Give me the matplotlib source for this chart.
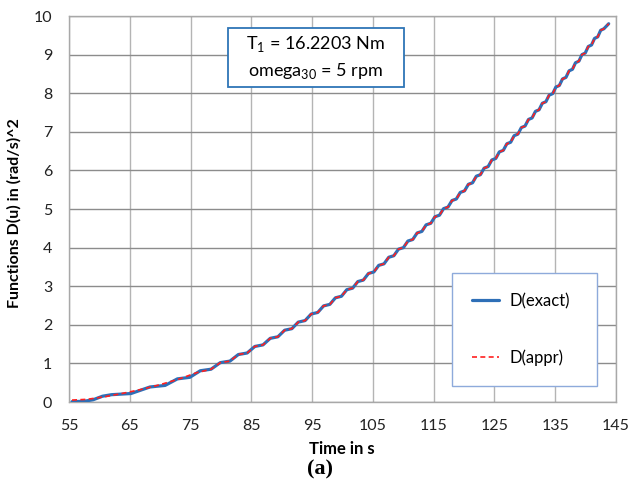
import matplotlib
matplotlib.use("Agg")
import matplotlib.pyplot as plt
from matplotlib.patches import Rectangle

plt.rcParams['font.family'] = ['Lato', 'DejaVu Sans']
plt.rcParams['mathtext.fontset'] = 'custom'
plt.rcParams['mathtext.rm'] = 'Lato'

# time (s) and D(u) in (rad/s)^2, exact solution
t_exact = [55.5, 57.5, 59.0, 60.5, 62.0, 65.2, 68.33, 70.81, 72.84, 74.88,
           76.60, 78.37, 79.89, 81.48, 82.86, 84.31, 85.58, 86.92, 88.11, 89.37,
           90.48, 91.67, 92.72, 93.85, 94.85, 95.93, 96.89, 97.92, 98.84, 99.83,
           100.71, 101.67, 102.52, 103.44, 104.27, 105.16, 105.96, 106.83, 107.61, 108.45,
           109.21, 110.03, 110.76, 111.56, 112.28, 113.06, 113.76, 114.53, 115.21, 115.96,
           116.63, 117.36, 118.02, 118.73, 119.38, 120.08, 120.71, 121.40, 122.02, 122.70,
           123.31, 123.97, 124.57, 125.22, 125.81, 126.46, 127.04, 127.67, 128.24, 128.86,
           129.43, 130.04, 130.60, 131.20, 131.75, 132.34, 132.88, 133.47, 134.00, 134.59,
           135.11, 135.68, 136.20, 136.77, 137.28, 137.84, 138.34, 138.90, 139.40, 139.94,
           140.44, 140.98, 141.47, 142.00, 142.48, 143.01, 143.8]
d_exact = [0.01, 0.02, 0.06, 0.15, 0.19, 0.22, 0.39, 0.43, 0.60, 0.64,
           0.81, 0.85, 1.02, 1.06, 1.23, 1.27, 1.44, 1.48, 1.65, 1.69,
           1.86, 1.90, 2.07, 2.11, 2.28, 2.32, 2.49, 2.53, 2.70, 2.74,
           2.91, 2.95, 3.12, 3.16, 3.33, 3.37, 3.54, 3.58, 3.75, 3.79,
           3.96, 4.00, 4.17, 4.21, 4.38, 4.42, 4.59, 4.63, 4.80, 4.84,
           5.01, 5.05, 5.22, 5.26, 5.43, 5.47, 5.64, 5.68, 5.85, 5.89,
           6.06, 6.10, 6.27, 6.31, 6.48, 6.52, 6.69, 6.73, 6.90, 6.94,
           7.11, 7.15, 7.32, 7.36, 7.53, 7.57, 7.74, 7.78, 7.95, 7.99,
           8.16, 8.20, 8.37, 8.41, 8.58, 8.62, 8.79, 8.83, 9.00, 9.04,
           9.21, 9.25, 9.42, 9.46, 9.63, 9.67, 9.80]

# approximation: smoother at the start, then follows the exact curve
t_appr_head = [55.5, 58.0, 61.0, 64.0, 67.0, 70.0, 73.0, 76.0]
d_appr_head = [0.05, 0.07, 0.14, 0.23, 0.33, 0.45, 0.59, 0.76]
t_appr = t_appr_head + t_exact[11:]
d_appr = d_appr_head + d_exact[11:]

x_ticks = [55, 65, 75, 85, 95, 105, 115, 125, 135, 145]
y_ticks = [0, 1, 2, 3, 4, 5, 6, 7, 8, 9, 10]

fig = plt.figure(figsize=(6.29, 4.87), dpi=100)
ax = fig.add_axes([0.1097, 0.1745, 0.8696, 0.7926])

ax.plot(t_exact, d_exact, color="#2e6fb7", lw=2.3, label="D(exact)",
        solid_joinstyle="round", solid_capstyle="round", zorder=3)
ax.plot(t_appr, d_appr, color="#ff2020", lw=1.2, linestyle=(0, (3, 2)),
        label="D(appr)", zorder=4)

ax.set_xlim(55, 145)
ax.set_ylim(0, 10)
ax.set_xticks(x_ticks)
ax.set_yticks(y_ticks)
ax.tick_params(length=0, pad=12, labelsize=11.5, colors="#222222")

ax.grid(True, axis="y", color="#8c8c8c", lw=1.0)
ax.grid(True, axis="x", color="#b4b4b4", lw=1.0)
ax.set_axisbelow(True)
for s in ax.spines.values():
    s.set_color("#a8a8a8")
    s.set_linewidth(1.0)

ax.set_xlabel("Time in s", fontsize=12, fontweight="bold")
ax.xaxis.set_label_coords(0.499, -0.100)
ax.set_ylabel("Functions D(u) in (rad/s)^2", fontsize=11.5, fontweight="bold")
ax.yaxis.set_label_coords(-0.086, 0.49)

# parameter box
ax.add_patch(Rectangle((0.2907, 0.816), 0.3218, 0.1528, transform=ax.transAxes,
                       facecolor="white", edgecolor="#2e75b6", lw=1.3, zorder=5))
ax.text(0.4516, 0.927, r"T$_{\mathregular{1}}$ = 16.2203 Nm", transform=ax.transAxes,
        ha="center", va="center", fontsize=13, zorder=6)
ax.text(0.4516, 0.858, r"omega$_{\mathregular{30}}$ = 5 rpm", transform=ax.transAxes,
        ha="center", va="center", fontsize=13, zorder=6)

leg = ax.legend(loc="upper left", bbox_to_anchor=(0.700, 0.0, 0.265, 0.334),
                mode="expand", borderaxespad=0, fontsize=12, borderpad=1.2,
                labelspacing=2.4, handlelength=1.6, handletextpad=0.65,
                fancybox=False, framealpha=1, edgecolor="#8eaadb")
leg.get_frame().set_linewidth(1.0)
leg.set_zorder(6)

fig.text(0.509, 1 - 469 / 487, "(a)", family="Liberation Serif", fontweight="bold",
         fontsize=16, ha="center", va="center")

fig.savefig("out.png", dpi=100)
